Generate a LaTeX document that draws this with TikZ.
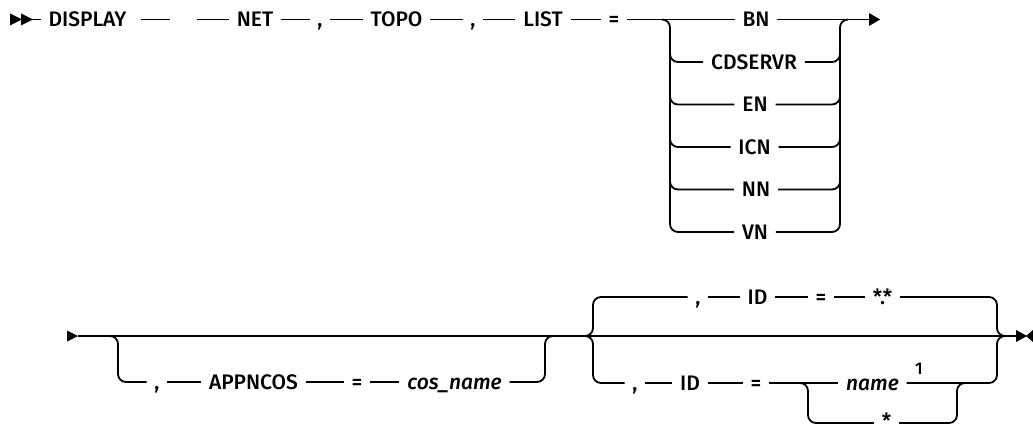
\documentclass[tikz,border=0pt]{standalone}
\usepackage{fontspec}
\setmainfont{Fira Sans}[UprightFont={Fira Sans Medium}, ItalicFont={Fira Sans Medium Italic}]
\begin{document}
\begin{tikzpicture}[x=1pt,y=-1pt,line width=1.8pt,
  t/.style={inner xsep=7pt, inner ysep=0pt, text height=14.5pt, text depth=0pt, font=\fontsize{21}{21}\selectfont},
  it/.style={t, font=\fontsize{21}{21}\selectfont\itshape},
  br/.style={rounded corners=8pt},
  tipfill/.style={fill=black, draw=none}]
\useasboundingbox (0,0) rectangle (1033,430);
% ---------- row 1 ----------
\fill[tipfill] (10,13.5) -- (22,19.5) -- (10,25.5) -- cycle;
\fill[tipfill] (21,13.5) -- (33,19.5) -- (21,25.5) -- cycle;
\coordinate (st1) at (30,19.5);
\node[t] (disp) at (87.5,19.5) {DISPLAY};
\coordinate (g1) at (170,19.5);
\coordinate (g2) at (197,19.5);
\node[t] (net) at (255,19.5) {NET};
\node[t] (c1) at (320,19.5) {,};
\node[t] (topo) at (396.5,19.5) {TOPO};
\node[t] (c2) at (473,19.5) {,};
\node[t] (list) at (543,19.5) {LIST};
\node[t] (eq1) at (614,19.5) {=};
\node[t] (bn) at (756,19.5) {BN};
\node[t] (cds) at (754,62) {CDSERVR};
\node[t] (en) at (755,104.5) {EN};
\node[t] (icn) at (754.5,147) {ICN};
\node[t] (nn) at (756,189.5) {NN};
\node[t] (vn) at (755,232) {VN};
\coordinate (e1) at (869,19.5);
\draw (st1) -- (disp.west);
\draw ([xshift=7pt]disp.east) -- (g1);
\draw (g2) -- (net.west);
\draw (net.east) -- (c1.west);
\draw (c1.east) -- (topo.west);
\draw (topo.east) -- (c2.west);
\draw (c2.east) -- (list.west);
\draw (list.east) -- (eq1.west);
\draw (eq1.east) -- (bn.west);
\draw (bn.east) -- (e1);
\fill[tipfill] (869,13) -- (880,19.5) -- (869,26) -- cycle;
% left bracket
\draw[br] (662,19.5) -- (670,19.5) -- (670,232) -- (vn.west);
\foreach \n/\yy in {cds/62,en/104.5,icn/147,nn/189.5}
  \draw[br] (670,\yy-8) -- (670,\yy) -- (\n.west);
% right bracket
\draw[br] (vn.east) -- (840,232) -- (840,19.5) -- (848,19.5);
\foreach \n/\yy in {cds/62,en/104.5,icn/147,nn/189.5}
  \draw[br] (\n.east) -- (840,\yy) -- (840,\yy-8);
% ---------- row 2 ----------
\coordinate (st2) at (78,336);
\coordinate (en2) at (1016,336);
\fill[tipfill] (67,330.5) -- (78,336) -- (67,341.5) -- cycle;
\draw (st2) -- (en2);
% APPNCOS branch
\node[t] (ca) at (157,382) {,};
\node[t] (ap) at (253.5,382) {APPNCOS};
\node[t] (eq2) at (357,382) {=};
\node[it] (cos) at (454.5,382) {cos\_name};
\draw[br] (110,336) -- (118,336) -- (118,382) -- (ca.west);
\draw (ca.east) -- (ap.west);
\draw (ap.east) -- (eq2.west);
\draw (eq2.east) -- (cos.west);
\draw[br] (cos.east) -- (545,382) -- (545,336) -- (553,336);
% ID group
\node[t] (ct) at (698,297) {,};
\node[t] (idt) at (757.5,297) {ID};
\node[t] (eqt) at (821,297) {=};
\node[t] (stars) at (882.5,297) {*.*};
\node[t] (cb) at (635,383) {,};
\node[t] (idb) at (690,383) {ID};
\node[t] (eqb) at (756,383) {=};
\node[it] (name) at (872.5,383) {name};
\node[t, font=\fontsize{17}{17}\selectfont] (sup) at (919,367) {1};
\node[t, text height=10pt] (star) at (886.5,420) {\raisebox{-3pt}{*}};
\draw[br] (ct.west) -- (593,297) -- (593,336) -- (585,336);
\draw[br] (585,336) -- (593,336) -- (593,383) -- (cb.west);
\draw (ct.east) -- (idt.west);
\draw (idt.east) -- (eqt.west);
\draw (eqt.east) -- (stars.west);
\draw[br] (stars.east) -- (997,297) -- (997,336) -- (1005,336);
\draw (cb.east) -- (idb.west);
\draw (idb.east) -- (eqb.west);
\draw (eqb.east) -- (name.west);
\draw[br] (name.east) -- (997,383) -- (997,336) -- (1005,336);
\draw[br] (800,383) -- (808,383) -- (808,423) -- ([yshift=-3pt]star.west);
\draw[br] ([yshift=-3pt]star.east) -- (957,423) -- (957,383) -- (965,383);
\fill[tipfill] (1016,330) -- (1027,336) -- (1016,342) -- cycle;
\fill[tipfill] (1033,330) -- (1026,336) -- (1033,342) -- cycle;
\end{tikzpicture}
\end{document}
